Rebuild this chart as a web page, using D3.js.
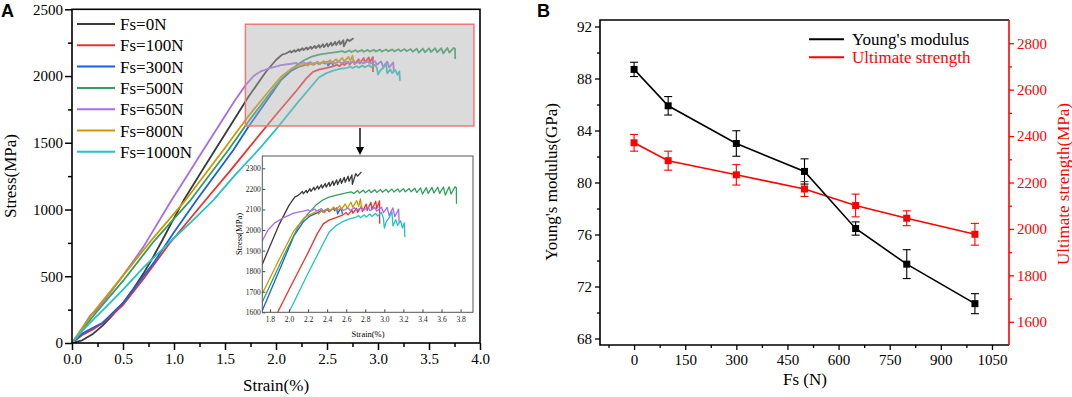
<!DOCTYPE html>
<html><head><meta charset="utf-8">
<script src="https://cdn.jsdelivr.net/npm/d3@7"></script>
<style>
body{margin:0;background:#fff}
svg{display:block}
text{font-family:"Liberation Serif","Times New Roman",serif}
</style>
</head><body><svg id="c" width="1072" height="397"></svg>
<script>
// ---------- Panel A data: stress–strain curves [strain %, stress MPa] ----------
const seriesNames = ["Fs=0N","Fs=100N","Fs=300N","Fs=500N","Fs=650N","Fs=800N","Fs=1000N"];
const seriesColors = ["#3a3a3a","#f03030","#1560e8","#30a060","#a56de8","#cc9900","#20c4c4"];
const fs0 = [[0,0],[0.1,20],[0.2,65],[0.3,130],[0.4,210],[0.5,300],[0.6,405],[0.7,520],[0.8,650],[0.9,790],[1.0,935],[1.092,1065],[1.25,1260],[1.402,1446],[1.55,1625],[1.73,1845],[1.9,2030],[2.0,2120],[2.06,2160],[2.09,2167],[2.12,2178],[2.14,2188],[2.15,2176],[2.18,2193],[2.19,2181],[2.22,2201],[2.23,2188],[2.26,2208],[2.27,2194],[2.30,2214],[2.31,2199],[2.34,2220],[2.35,2204],[2.38,2226],[2.39,2209],[2.42,2232],[2.43,2213],[2.46,2238],[2.47,2217],[2.50,2244],[2.51,2221],[2.54,2250],[2.55,2227],[2.58,2256],[2.59,2232],[2.62,2262],[2.63,2237],[2.66,2268],[2.665,2222],[2.70,2274],[2.72,2262],[2.76,2283]];
const fs100 = [[0,0],[0.1,60],[0.2,100],[0.3,148],[0.5,285],[0.7,480],[0.95,740],[1.31,1071],[1.55,1290],[1.8,1525],[2.0,1710],[2.2,1890],[2.3,1985],[2.36,2030],[2.42,2048],[2.5,2062],[2.56,2072],[2.6,2085],[2.62,2074],[2.66,2096],[2.67,2082],[2.71,2106],[2.72,2086],[2.76,2116],[2.77,2090],[2.81,2126],[2.82,2095],[2.86,2135],[2.87,2100],[2.91,2140],[2.92,2104],[2.95,2142],[2.951,2030]];
const fs300 = [[0,0],[0.1,70],[0.2,112],[0.3,152],[0.5,300],[0.8,600],[1.0,830],[1.222,1071],[1.582,1446],[1.73,1620],[1.95,1860],[2.05,1970],[2.15,2040],[2.22,2068],[2.3,2085],[2.34,2095],[2.36,2086],[2.4,2100],[2.42,2090],[2.46,2105],[2.48,2094],[2.5,2108],[2.51,2078],[2.53,2097],[2.55,2103],[2.56,2078]];
const fs500 = [[0,0],[0.2,195],[0.5,465],[0.8,760],[1.163,1071],[1.533,1446],[1.73,1660],[1.95,1880],[2.1,2020],[2.2,2080],[2.28,2120],[2.35,2145],[2.42,2160],[2.5,2170],[2.59,2179],[2.65,2186],[2.68,2178],[2.72,2192],[2.74,2180],[2.78,2194],[2.8,2181],[2.84,2195],[2.86,2182],[2.9,2196],[2.92,2183],[2.96,2197],[2.98,2184],[3.02,2198],[3.04,2184],[3.08,2199],[3.1,2185],[3.14,2200],[3.16,2185],[3.2,2201],[3.22,2186],[3.26,2202],[3.28,2186],[3.32,2203],[3.34,2182],[3.38,2205],[3.40,2175],[3.44,2206],[3.46,2178],[3.50,2207],[3.52,2180],[3.56,2208],[3.58,2178],[3.62,2209],[3.64,2170],[3.68,2210],[3.70,2175],[3.74,2210],[3.755,2205],[3.757,2128]];
const fs650 = [[0,0],[0.1,112],[0.18,208],[0.22,230],[0.3,300],[0.5,505],[0.7,720],[0.977,1071],[1.15,1280],[1.287,1446],[1.45,1640],[1.6,1820],[1.7,1930],[1.78,2000],[1.85,2035],[1.95,2062],[2.05,2082],[2.15,2092],[2.2,2098],[2.22,2090],[2.27,2102],[2.29,2092],[2.34,2104],[2.36,2093],[2.41,2105],[2.43,2094],[2.48,2106],[2.5,2094],[2.55,2107],[2.57,2095],[2.62,2108],[2.64,2096],[2.69,2108],[2.71,2096],[2.76,2109],[2.78,2096],[2.83,2110],[2.85,2094],[2.9,2110],[2.92,2092],[2.97,2111],[2.99,2085],[3.03,2110],[3.05,2070],[3.09,2108],[3.11,2065],[3.15,2102],[3.155,2035]];
const fs800 = [[0,0],[0.2,220],[0.5,505],[0.8,790],[1.114,1071],[1.484,1446],[1.73,1700],[1.9,1860],[2.05,1995],[2.16,2060],[2.22,2075],[2.28,2088],[2.31,2078],[2.35,2097],[2.37,2084],[2.41,2105],[2.43,2090],[2.47,2112],[2.49,2096],[2.53,2119],[2.55,2100],[2.59,2127],[2.61,2106],[2.65,2135],[2.67,2110],[2.71,2143],[2.73,2115],[2.75,2152],[2.76,2108]];
const fs1000 = [[0,0],[0.1,90],[0.2,170],[0.3,245],[0.5,400],[0.7,565],[0.95,750],[1.2,930],[1.386,1071],[1.6,1260],[1.827,1446],[2.0,1600],[2.2,1790],[2.42,1989],[2.49,2020],[2.56,2040],[2.626,2053],[2.7,2062],[2.73,2070],[2.75,2060],[2.79,2074],[2.81,2063],[2.85,2078],[2.87,2066],[2.91,2081],[2.93,2068],[2.97,2085],[2.99,2058],[3.0,2010],[3.02,2040],[3.05,2060],[3.08,2088],[3.09,2020],[3.12,2050],[3.14,2022],[3.17,2045],[3.19,2010],[3.21,2035],[3.215,1965]];
const curves = [fs0, fs100, fs300, fs500, fs650, fs800, fs1000];
const strainTicks = [0,0.5,1,1.5,2,2.5,3,3.5,4];
const stressTicks = [0,500,1000,1500,2000,2500];
const insetStrainTicks = [1.8,2.0,2.2,2.4,2.6,2.8,3.0,3.2,3.4,3.6,3.8];
const insetStressTicks = [1600,1700,1800,1900,2000,2100,2200,2300];
const zoomBox = {x0:1.70, x1:3.94, y0:1626, y1:2388};

// ---------- Panel B data ----------
const fsLoad = [0,100,300,500,650,800,1000];
const youngs = [88.7,85.9,83.0,80.85,76.46,73.72,70.68];
const youngsErr = [0.55,0.71,0.98,0.97,0.51,1.11,0.77];
const ultimate = [2371,2294,2233,2172,2101,2046,1977];
const ultimateErr = [36,41,44,32,49,32,47];
const fsTicks = [0,150,300,450,600,750,900,1050];
const youngsTicks = [68,72,76,80,84,88,92];
const ultimateTicks = [1600,1800,2000,2200,2400,2600,2800];

const svg = d3.select("#c");
const defs = svg.append("defs");
const fmtInt = d3.format("d");

// ================= PANEL A =================
const xA = d3.scaleLinear().domain([0,4]).range([72,480]);
const yA = d3.scaleLinear().domain([0,2500]).range([343,9.3]);
defs.append("clipPath").attr("id","clipA").append("rect")
  .attr("x",72).attr("y",9.3).attr("width",408).attr("height",333.7);

const gA = svg.append("g");
const lineA = d3.line().x(d=>xA(d[0])).y(d=>yA(d[1]));
const curvesG = gA.append("g").attr("clip-path","url(#clipA)");
curves.forEach((c,i)=>{
  curvesG.append("path").attr("d",lineA(c)).attr("fill","none")
    .attr("stroke",seriesColors[i]).attr("stroke-width",1.8).attr("stroke-linejoin","round");
});
// grey highlight box
gA.append("rect").attr("x",xA(zoomBox.x0)).attr("y",yA(zoomBox.y1))
  .attr("width",xA(zoomBox.x1)-xA(zoomBox.x0)).attr("height",yA(zoomBox.y0)-yA(zoomBox.y1))
  .attr("fill","#b0b0b0").attr("fill-opacity",0.45).attr("stroke","#f07878").attr("stroke-width",1.5);

// axes
gA.append("g").attr("transform","translate(0,343)")
  .call(d3.axisBottom(xA).tickValues(strainTicks).tickFormat(d3.format(".1f")).tickSize(7).tickPadding(3));
gA.append("g").attr("transform","translate(0,343)")
  .call(d3.axisBottom(xA).tickValues(d3.range(0.25,4,0.5)).tickFormat("").tickSize(4));
gA.append("g").attr("transform","translate(72,0)")
  .call(d3.axisLeft(yA).tickValues(stressTicks).tickFormat(fmtInt).tickSize(7).tickPadding(2));
gA.append("g").attr("transform","translate(72,0)")
  .call(d3.axisLeft(yA).tickValues(d3.range(250,2500,500)).tickFormat("").tickSize(4));
gA.selectAll(".domain").remove();
gA.selectAll(".tick line").attr("stroke","#000").attr("stroke-width",1.5);
gA.selectAll(".tick text").attr("font-size",15).attr("fill","#000")
  .attr("font-family","'Liberation Serif',serif");
gA.append("rect").attr("x",72).attr("y",9.3).attr("width",408).attr("height",333.7)
  .attr("fill","none").attr("stroke","#000").attr("stroke-width",1.6);

// legend A
seriesNames.forEach((n,i)=>{
  const y = 24 + i*21.3;
  gA.append("line").attr("x1",77).attr("x2",115).attr("y1",y).attr("y2",y)
    .attr("stroke",seriesColors[i]).attr("stroke-width",2);
  gA.append("text").attr("x",120).attr("y",y+6).attr("font-size",17).text(n);
});

// arrow
gA.append("line").attr("x1",360).attr("x2",360).attr("y1",yA(zoomBox.y0)+2).attr("y2",149)
  .attr("stroke","#000").attr("stroke-width",1.4);
gA.append("path").attr("d","M356,147L364,147L360,155Z").attr("fill","#000");

// ---- inset ----
const xI = d3.scaleLinear().domain([1.72,3.93]).range([262.3,473]);
const yI = d3.scaleLinear().domain([1600,2360]).range([312.3,156]);
gA.append("rect").attr("x",262.3).attr("y",156).attr("width",210.7).attr("height",156.3).attr("fill","#fff");
defs.append("clipPath").attr("id","clipI").append("rect")
  .attr("x",262.3).attr("y",156).attr("width",210.7).attr("height",156.3);
const lineI = d3.line().x(d=>xI(d[0])).y(d=>yI(d[1]));
const insetG = gA.append("g").attr("clip-path","url(#clipI)");
curves.forEach((c,i)=>{
  insetG.append("path").attr("d",lineI(c)).attr("fill","none")
    .attr("stroke",seriesColors[i]).attr("stroke-width",1.3).attr("stroke-linejoin","round");
});
const gI = gA.append("g");
gI.append("g").attr("transform","translate(0,312.3)")
  .call(d3.axisBottom(xI).tickValues(insetStrainTicks).tickFormat(d3.format(".1f")).tickSizeInner(-3).tickSizeOuter(0).tickPadding(4));
gI.append("g").attr("transform","translate(262.3,0)")
  .call(d3.axisLeft(yI).tickValues(insetStressTicks).tickFormat(fmtInt).tickSizeInner(-3).tickSizeOuter(0).tickPadding(1.5));
gI.selectAll(".domain").remove();
gI.selectAll(".tick line").attr("stroke","#444");
gI.selectAll(".tick text").attr("font-size",7.5).attr("fill","#222").attr("font-family","'Liberation Serif',serif");
gI.append("rect").attr("x",262.3).attr("y",156).attr("width",210.7).attr("height",156.3)
  .attr("fill","none").attr("stroke","#555").attr("stroke-width",1);
gI.append("text").attr("x",368).attr("y",337).attr("text-anchor","middle").attr("font-size",8.5).text("Strain(%)");
gI.append("text").attr("transform","translate(242,234) rotate(-90)").attr("text-anchor","middle")
  .attr("font-size",8.5).text("Stress(MPa)");

// titles A
svg.append("text").attr("x",276).attr("y",391).attr("text-anchor","middle").attr("font-size",17).text("Strain(%)");
svg.append("text").attr("transform","translate(16,176) rotate(-90)").attr("text-anchor","middle")
  .attr("font-size",17).text("Stress(MPa)");
svg.append("text").attr("x",1).attr("y",17).attr("font-size",18).attr("font-weight","bold")
  .style("font-family","'Liberation Sans',Arial,sans-serif").text("A");

// ================= PANEL B =================
const xB = d3.scaleLinear().domain([-100,1100]).range([600,1009]);
const yL = d3.scaleLinear().domain([67.5,92.5]).range([345,20]);
const yR = d3.scaleLinear().domain([1500,2900]).range([345,20]);
const gB = svg.append("g");
const red = "#ff0000";

gB.append("g").attr("transform","translate(0,345)")
  .call(d3.axisBottom(xB).tickValues(fsTicks).tickFormat(fmtInt).tickSize(5).tickPadding(4));
gB.append("g").attr("transform","translate(0,345)")
  .call(d3.axisBottom(xB).tickValues(d3.range(-75,1100,150)).tickFormat("").tickSize(3));
gB.append("g").attr("transform","translate(600,0)")
  .call(d3.axisLeft(yL).tickValues(youngsTicks).tickFormat(fmtInt).tickSize(5).tickPadding(3));
gB.append("g").attr("transform","translate(600,0)")
  .call(d3.axisLeft(yL).tickValues(d3.range(70,92,4)).tickFormat("").tickSize(3));
const rAx = gB.append("g").attr("transform","translate(1009,0)");
rAx.append("g").call(d3.axisRight(yR).tickValues(ultimateTicks).tickFormat(fmtInt).tickSize(5).tickPadding(3));
rAx.append("g").call(d3.axisRight(yR).tickValues(d3.range(1700,2900,200)).tickFormat("").tickSize(3));
gB.selectAll(".domain").remove();
gB.selectAll(".tick line").attr("stroke","#000").attr("stroke-width",1.3);
gB.selectAll(".tick text").attr("font-size",15).attr("fill","#000").attr("font-family","'Liberation Serif',serif");
rAx.selectAll(".tick line").attr("stroke",red);
rAx.selectAll(".tick text").attr("fill",red);
gB.append("path").attr("d","M1009,20L600,20L600,345L1009,345").attr("fill","none").attr("stroke","#000").attr("stroke-width",1.6);
gB.append("line").attr("x1",1009).attr("x2",1009).attr("y1",20).attr("y2",345).attr("stroke",red).attr("stroke-width",1.6);

function drawSeries(vals, errs, yS, color){
  const g = gB.append("g");
  const pts = fsLoad.map((f,i)=>({x:xB(f), y:yS(vals[i]), lo:yS(vals[i]-errs[i]), hi:yS(vals[i]+errs[i])}));
  g.append("path").attr("d",d3.line().x(d=>d.x).y(d=>d.y)(pts)).attr("fill","none")
    .attr("stroke",color).attr("stroke-width",1.6);
  pts.forEach(p=>{
    g.append("line").attr("x1",p.x).attr("x2",p.x).attr("y1",p.lo).attr("y2",p.hi).attr("stroke",color).attr("stroke-width",1.1);
    g.append("line").attr("x1",p.x-4).attr("x2",p.x+4).attr("y1",p.lo).attr("y2",p.lo).attr("stroke",color).attr("stroke-width",1.1);
    g.append("line").attr("x1",p.x-4).attr("x2",p.x+4).attr("y1",p.hi).attr("y2",p.hi).attr("stroke",color).attr("stroke-width",1.1);
    g.append("rect").attr("x",p.x-3.5).attr("y",p.y-3.5).attr("width",7).attr("height",7).attr("fill",color);
  });
}
drawSeries(ultimate, ultimateErr, yR, red);
drawSeries(youngs, youngsErr, yL, "#000");

gB.append("line").attr("x1",809).attr("x2",844).attr("y1",39.3).attr("y2",39.3).attr("stroke","#000").attr("stroke-width",2);
gB.append("text").attr("x",852).attr("y",45).attr("font-size",17).text("Young's modulus");
gB.append("line").attr("x1",809).attr("x2",844).attr("y1",57.3).attr("y2",57.3).attr("stroke",red).attr("stroke-width",2);
gB.append("text").attr("x",852).attr("y",63).attr("font-size",17).attr("fill",red).text("Ultimate strength");

svg.append("text").attr("x",805).attr("y",385).attr("text-anchor","middle").attr("font-size",17).text("Fs (N)");
svg.append("text").attr("transform","translate(557,182) rotate(-90)").attr("text-anchor","middle")
  .attr("font-size",17).text("Young's modulus(GPa)");
svg.append("text").attr("transform","translate(1069,184) rotate(-90)").attr("text-anchor","middle")
  .attr("font-size",17).attr("fill",red).text("Ultimate strength(MPa)");
svg.append("text").attr("x",537).attr("y",17).attr("font-size",18).attr("font-weight","bold")
  .style("font-family","'Liberation Sans',Arial,sans-serif").text("B");
</script></body></html>
